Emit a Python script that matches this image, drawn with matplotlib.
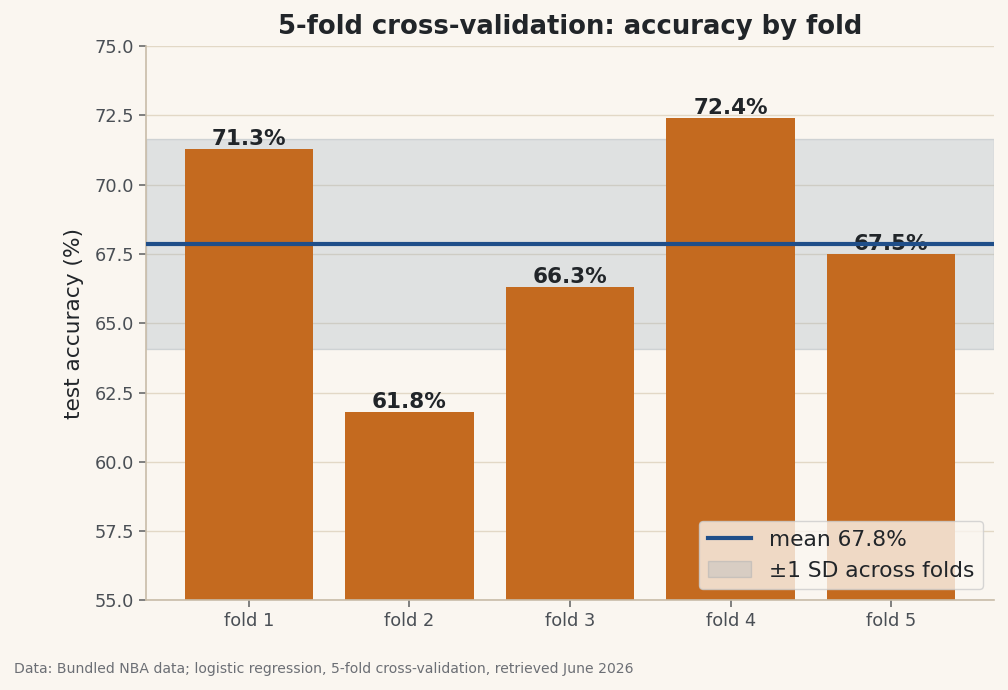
import numpy as np
import matplotlib
matplotlib.use("Agg")
import matplotlib.pyplot as plt

folds = ["fold 1", "fold 2", "fold 3", "fold 4", "fold 5"]
accuracy = [71.3, 61.8, 66.3, 72.4, 67.5]
mean_acc = 67.85
sd_acc = 3.79

bg = "#faf6f0"
plt.rcParams['font.family'] = ['DejaVu Sans']
fig = plt.figure(figsize=(10.08, 6.9), dpi=100, facecolor=bg)
ax = fig.add_axes([0.145, 0.13, 0.841, 0.803])
ax.set_facecolor(bg)

x = np.arange(len(folds))
ax.axhspan(mean_acc - sd_acc, mean_acc + sd_acc, facecolor="#a3b3c1", alpha=0.3,
           edgecolor="#8a9aa8", linewidth=1, zorder=1, label="±1 SD across folds")
bars = ax.bar(x, accuracy, width=0.8, color="#c46a1f", zorder=2)
for xi, v in zip(x, accuracy):
    ax.text(xi, v, f"{v:.1f}%", ha="center", va="bottom", fontsize=15.5,
            fontweight="bold", color="#212529", zorder=3)
ax.axhline(mean_acc, color="#1f4e89", linewidth=3, zorder=4, label=f"mean {mean_acc:.1f}%")

ax.set_ylim(55, 75)
ax.set_xlim(-0.64, 4.64)
ax.set_yticks(np.arange(55, 75.1, 2.5))
ax.set_yticklabels([f"{t:.1f}" for t in np.arange(55, 75.1, 2.5)])
ax.set_xticks(x)
ax.set_xticklabels(folds)
ax.tick_params(axis="both", labelsize=12.8, colors="#4a4f55", length=5, width=1.2)
ax.tick_params(axis="x", color="#6b6b6b")
ax.tick_params(axis="y", color="#6b6b6b")
ax.grid(axis="y", color="#e2d8c6", linewidth=1, zorder=0)
ax.set_axisbelow(True)
for s in ["top", "right"]:
    ax.spines[s].set_visible(False)
for s in ["left", "bottom"]:
    ax.spines[s].set_color("#c8bca8")
    ax.spines[s].set_linewidth(1.2)

ax.set_ylabel("test accuracy (%)", fontsize=15.6, color="#212529", labelpad=8)
ax.set_title("5-fold cross-validation: accuracy by fold", fontsize=18.6,
             fontweight="bold", color="#212529", pad=9)

h, l = ax.get_legend_handles_labels()
leg = ax.legend(h[::-1], l[::-1], loc="lower right", fontsize=15.7, framealpha=0.8,
                facecolor=bg, edgecolor="#cccccc", labelcolor="#212529")

fig.text(0.014, 0.025, "Data: Bundled NBA data; logistic regression, 5-fold cross-validation, retrieved June 2026",
         fontsize=10.1, color="#6c6f75")

fig.savefig("out.png", dpi=100, facecolor=bg)
